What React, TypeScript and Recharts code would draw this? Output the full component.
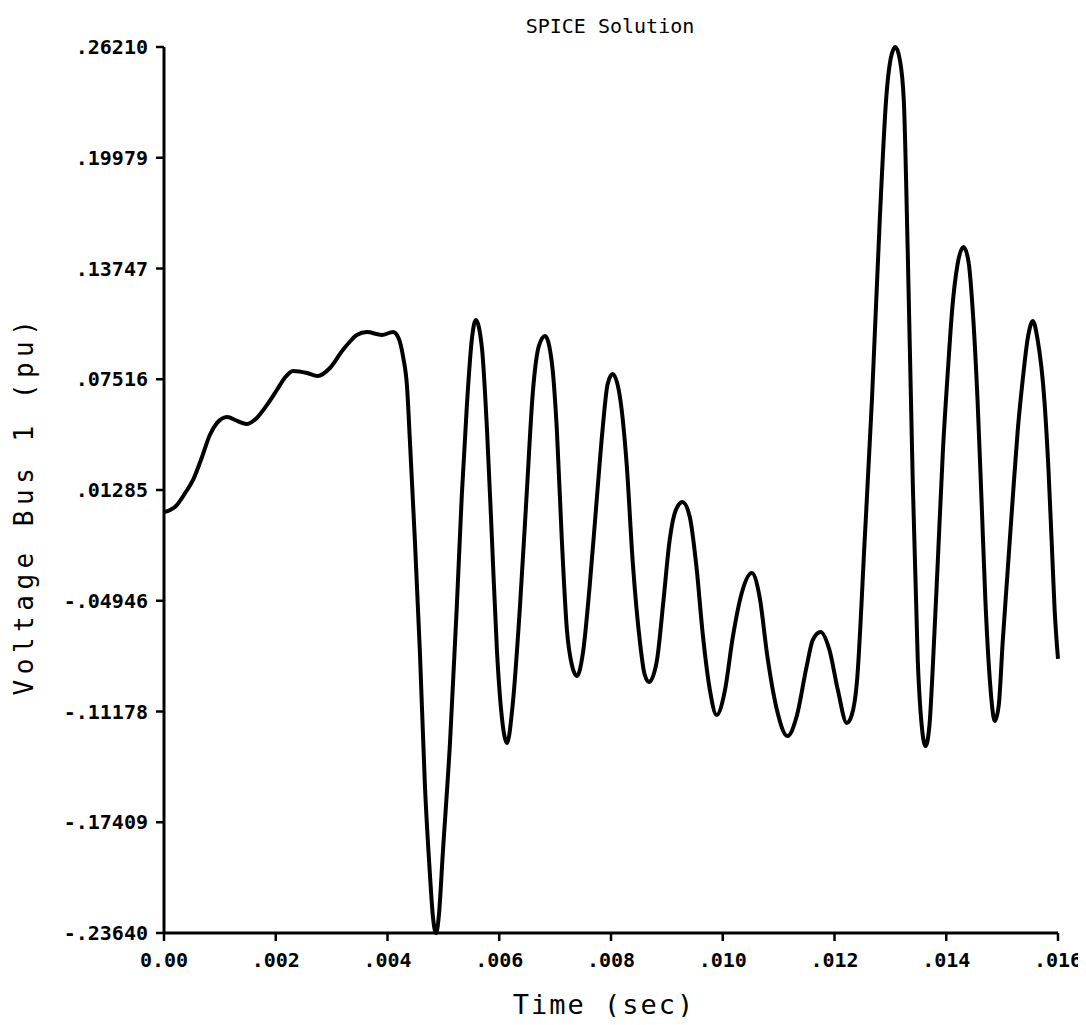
import React from 'react';
import { LineChart, Line, XAxis, YAxis, Label } from 'recharts';

const tSec = [
  0, 0.00011, 0.00023, 0.00038, 0.00052, 0.00068, 0.00082, 0.00095, 0.00113, 0.00131,
  0.00148, 0.00166, 0.00184, 0.00202, 0.00216, 0.00231, 0.00256, 0.00275, 0.00297, 0.0032,
  0.00333, 0.00345, 0.00363, 0.0039, 0.0041, 0.00419, 0.00428, 0.00435, 0.0044, 0.00449, 0.00458,
  0.00467, 0.00476, 0.00481, 0.00487, 0.00492, 0.00499, 0.00512, 0.00524, 0.00533, 0.00542,
  0.00551, 0.00558, 0.00569, 0.00578, 0.00587, 0.00596, 0.00605, 0.00614, 0.00624, 0.00637,
  0.00649, 0.0066, 0.00671, 0.00682, 0.00694, 0.00703, 0.00712, 0.00721, 0.0073, 0.00739,
  0.0075, 0.00762, 0.00775, 0.00785, 0.00794, 0.00803, 0.00816, 0.00828, 0.00839, 0.00852,
  0.0086, 0.00868, 0.00882, 0.00894, 0.00905, 0.00916, 0.00928, 0.00941, 0.00953, 0.00964,
  0.00977, 0.00989, 0.01004, 0.01018, 0.01034, 0.01052, 0.01066, 0.0108, 0.01097, 0.01116,
  0.01132, 0.0115, 0.01161, 0.01175, 0.01191, 0.01206, 0.01222, 0.01231, 0.0124, 0.01254,
  0.01267, 0.01281, 0.01293, 0.01302, 0.01309, 0.01317, 0.01324, 0.01331, 0.0134, 0.01349,
  0.01356, 0.01363, 0.0137, 0.01376, 0.01385, 0.01394, 0.01403, 0.01411, 0.0142, 0.01431,
  0.0144, 0.01447, 0.01456, 0.01463, 0.0147, 0.01478, 0.01487, 0.01494, 0.01501, 0.0151,
  0.01519, 0.01528, 0.01537, 0.01546, 0.01555, 0.01563, 0.01576, 0.01583, 0.01589, 0.01594,
  0.016,
];

const voltageBus1 = [
  0.0005, 0.0016, 0.0044, 0.0112, 0.0185, 0.0314, 0.0438, 0.0506, 0.0539, 0.0517,
  0.05, 0.0534, 0.0606, 0.0691, 0.0759, 0.0798, 0.0787, 0.077, 0.0815, 0.0916,
  0.0964, 0.1001, 0.1017, 0.1001, 0.1017, 0.0989, 0.0877, 0.0708, 0.041, -0.0153, -0.0783,
  -0.1537, -0.2038, -0.2263, -0.2364, -0.2263, -0.1914, -0.1284, -0.053, 0.01, 0.0601,
  0.0978, 0.1085, 0.0928, 0.0472, -0.0153, -0.0783, -0.116, -0.1295, -0.1081, -0.053,
  0.01, 0.0674, 0.0939, 0.0995, 0.0849, 0.0472, -0.0153, -0.0654, -0.0856, -0.0918,
  -0.0783, -0.0406, 0.0095, 0.0472, 0.0725, 0.0781, 0.0652, 0.0275, -0.0282, -0.0732,
  -0.0907, -0.0952, -0.0834, -0.049, -0.0153, 0.0016, 0.0061, -0.0023, -0.0305, -0.0676,
  -0.0997, -0.1137, -0.0997, -0.0699, -0.0451, -0.0339, -0.0474, -0.0811, -0.1109, -0.1256,
  -0.1149, -0.0867, -0.0716, -0.067, -0.0772, -0.0997, -0.1182, -0.1137, -0.0957, -0.0153,
  0.0635, 0.1648, 0.2351, 0.2576, 0.2621, 0.2548, 0.2323, 0.1479, 0.0185, -0.0828,
  -0.1194, -0.1312, -0.1194, -0.0862, -0.0265, 0.0348, 0.0804, 0.1158, 0.1394, 0.1496,
  0.1411, 0.1158, 0.0635, 0.0083, -0.049, -0.094, -0.1171, -0.1081, -0.0727, -0.0322,
  0.0083, 0.0466, 0.0753, 0.0984, 0.1079, 0.0984, 0.0618, 0.0241, -0.0187, -0.0547,
  -0.0822,
];

const xTicks = [0, 0.002, 0.004, 0.006, 0.008, 0.01, 0.012, 0.014, 0.016];
const xTickLabels = ['0.00', '.002', '.004', '.006', '.008', '.010', '.012', '.014', '.016'];
const yTicks = [-0.2364, -0.17409, -0.11178, -0.04946, 0.01285, 0.07516, 0.13747, 0.19979, 0.2621];
const yTickLabels = ['-.23640', '-.17409', '-.11178', '-.04946', '.01285', '.07516', '.13747', '.19979', '.26210'];

const titleText = 'SPICE Solution';
const xLabelText = 'Time (sec)';
const yLabelText = 'Voltage Bus 1 (pu)';

const data = tSec.map((t, i) => ({ t, v: voltageBus1[i] }));

const FONT = '"DejaVu Sans Mono", "Liberation Mono", monospace';

const findLabel = (ticks: number[], labels: string[], v: number) => {
  const i = ticks.findIndex((x) => Math.abs(x - v) < 1e-7);
  return i >= 0 ? labels[i] : String(v);
};

const YLabelContent = (props: any) => {
  const vb = props.viewBox || { x: 0, y: 0, width: 0, height: 0 };
  const x = vb.x + 25;
  const y = vb.y + vb.height / 2 + 15;
  return (
    <text
      x={x}
      y={y}
      transform={`rotate(-90, ${x}, ${y})`}
      textAnchor="middle"
      fontFamily={FONT}
      fontSize={26}
      letterSpacing={5.5}
      fill="#000"
    >
      {yLabelText}
    </text>
  );
};

const XLabelContent = (props: any) => {
  const vb = props.viewBox || { x: 0, y: 0, width: 0, height: 0 };
  const x = vb.x + vb.width / 2 - 7;
  const y = vb.y + 81;
  return (
    <text x={x} y={y} textAnchor="middle" fontFamily={FONT} fontSize={27} letterSpacing={2} fill="#000">
      {xLabelText}
    </text>
  );
};

export default function App() {
  return (
    <div style={{ position: 'relative', width: 1070, height: 1009, fontFamily: FONT, background: '#fff' }}>
      <style>{`.recharts-surface { overflow: visible; } .recharts-wrapper { overflow: visible; }`}</style>
      <div
        style={{
          position: 'absolute',
          left: 502,
          top: 6,
          width: 200,
          textAlign: 'center',
          fontSize: 20,
          fontFamily: FONT,
          color: '#000',
          whiteSpace: 'nowrap',
        }}
      >
        {titleText}
      </div>
      <LineChart width={1070} height={1009} data={data} margin={{ top: 39, right: 20, bottom: 0, left: 0 }}>
        <XAxis
          dataKey="t"
          type="number"
          domain={[0, 0.016]}
          ticks={xTicks}
          interval={0}
          tickFormatter={(v: number) => findLabel(xTicks, xTickLabels, v)}
          height={84}
          tickSize={8}
          tickMargin={12}
          axisLine={{ stroke: '#000', strokeWidth: 3 }}
          tickLine={{ stroke: '#000', strokeWidth: 2.5 }}
          tick={{ fill: '#000', fontSize: 20, fontWeight: 700, fontFamily: FONT }}
        >
          <Label content={<XLabelContent />} />
        </XAxis>
        <YAxis
          dataKey="v"
          type="number"
          domain={[-0.2364, 0.2621]}
          ticks={yTicks}
          interval={0}
          tickFormatter={(v: number) => findLabel(yTicks, yTickLabels, v)}
          width={156}
          tickSize={8}
          tickMargin={8}
          axisLine={{ stroke: '#000', strokeWidth: 3 }}
          tickLine={{ stroke: '#000', strokeWidth: 2.5 }}
          tick={{ fill: '#000', fontSize: 20, fontWeight: 700, fontFamily: FONT }}
        >
          <Label content={<YLabelContent />} />
        </YAxis>
        <Line
          type="monotone"
          dataKey="v"
          stroke="#000"
          strokeWidth={4}
          dot={false}
          activeDot={false}
          isAnimationActive={false}
        />
      </LineChart>
    </div>
  );
}
